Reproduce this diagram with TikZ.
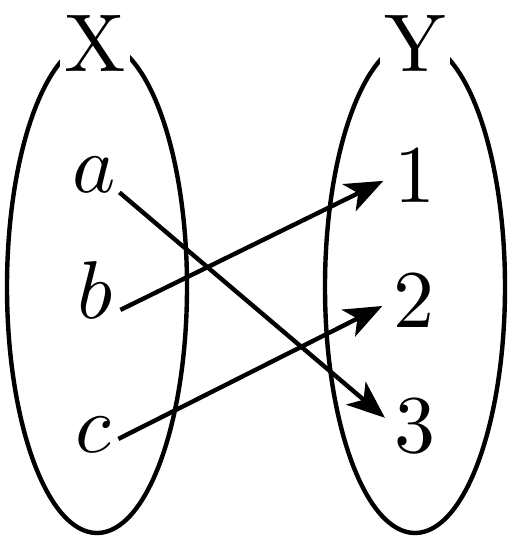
\documentclass[tikz,border=0pt]{standalone}
\usepackage{amsmath}
\usepackage{tikz}
\usetikzlibrary{shapes.geometric, arrows.meta, positioning}

\font\setnamefont=cmr10 at 41pt
\font\elemfont=cmmi10 at 41pt

\begin{document}
\begin{tikzpicture}[
        x=0.5pt, y=-0.5pt,
        set/.style={ellipse, draw, line width=2.2pt, inner sep=0pt, minimum width=90pt, minimum height=246pt},
        setname/.style={fill=white, inner sep=2pt, anchor=base, font=\setnamefont},
        elem/.style={inner sep=0pt, anchor=base, minimum width=25pt, font=\elemfont},
        num/.style={inner sep=0pt, anchor=base, font=\setnamefont},
        map/.style={-{Stealth[length=19pt, width=15pt, inset=5pt]}, line width=2.2pt, shorten >=6pt}
    ]
    \useasboundingbox (0,0) rectangle (513,536);

    % Sets
    \node[set] (setX) at (97,287) {};
    \node[set] (setY) at (415,287) {};
    \node[setname] (X) at (95,71) {X};
    \node[setname] (Y) at (415,71) {Y};

    % Elements
    \node[elem] (a) at (94,192) {a};
    \node[elem] (b) at (95,318) {b};
    \node[elem] (c) at (93,452) {c};
    \node[num] (n1) at (415,202) {1};
    \node[num] (n2) at (414,327) {2};
    \node[num] (n3) at (415,452) {3};

    % Connections
    \draw[map] (a.south east) -- (n3.west);
    \draw[map] ([yshift=4.25pt]b.south east) -- (n1.west);
    \draw[map] ([yshift=6.75pt]c.south east) -- (n2.west);
\end{tikzpicture}
\end{document}
